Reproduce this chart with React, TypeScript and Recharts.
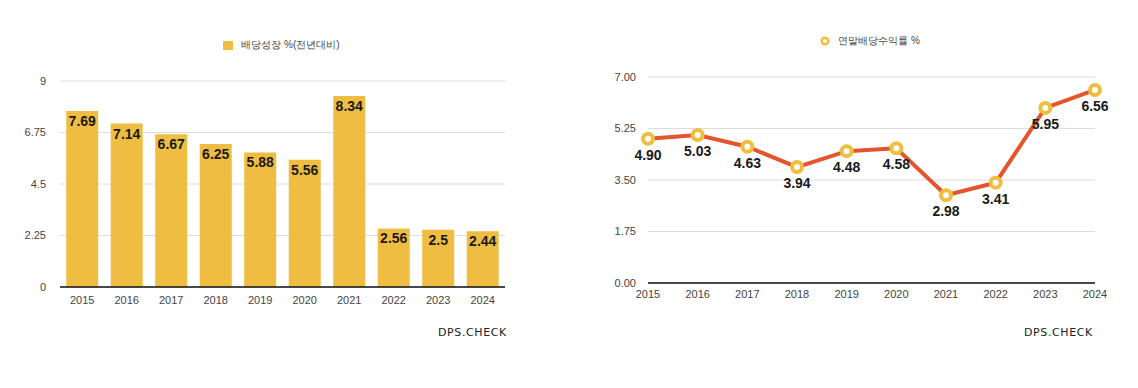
import React from "react";
import {
  BarChart,
  Bar,
  LineChart,
  Line,
  XAxis,
  YAxis,
  CartesianGrid,
  Legend,
  LabelList,
  ReferenceLine,
} from "recharts";

const years = ["2015", "2016", "2017", "2018", "2019", "2020", "2021", "2022", "2023", "2024"];
const growthValues = [7.69, 7.14, 6.67, 6.25, 5.88, 5.56, 8.34, 2.56, 2.5, 2.44];
const yieldValues = [4.9, 5.03, 4.63, 3.94, 4.48, 4.58, 2.98, 3.41, 5.95, 6.56];
const growthTicks = [0, 2.25, 4.5, 6.75, 9];
const yieldTicks = [0, 1.75, 3.5, 5.25, 7];
const growthName = "배당성장 %(전년대비)";
const yieldName = "연말배당수익률 %";

const growthData = years.map((year, i) => ({ year, value: growthValues[i] }));
const yieldData = years.map((year, i) => ({ year, value: yieldValues[i] }));

const FONT = "'Liberation Sans', Arial, sans-serif";
const BAR_COLOR = "#eebd41";
const LINE_COLOR = "#e4552e";
const DOT_COLOR = "#efbe3e";
const tickStyle = { fontSize: 11, fill: "#444", fontFamily: FONT };
const labelStyle = { fontSize: 14, fontWeight: 700, fill: "#1a1a1a", fontFamily: FONT };

const BarLegend = () => (
  <div style={{ height: 46, display: "flex", justifyContent: "center", paddingLeft: 48, fontFamily: FONT }}>
    <div style={{ display: "flex", alignItems: "center", height: 20, fontSize: 10, color: "#444" }}>
      <span style={{ width: 10, height: 9, background: BAR_COLOR, marginRight: 8, display: "inline-block" }} />
      {growthName}
    </div>
  </div>
);

const LineLegend = () => (
  <div style={{ height: 46, display: "flex", justifyContent: "center", paddingLeft: 46, fontFamily: FONT }}>
    <div style={{ display: "flex", alignItems: "center", height: 20, fontSize: 10, color: "#444" }}>
      <svg width={12} height={12} style={{ marginRight: 7 }}>
        <circle cx={6} cy={6} r={3.3} fill="#fff" stroke={DOT_COLOR} strokeWidth={2.5} />
      </svg>
      {yieldName}
    </div>
  </div>
);

const Watermark = ({ left }: { left: number }) => (
  <div
    style={{
      position: "absolute",
      left,
      top: 326,
      fontFamily: "'DejaVu Sans', sans-serif",
      fontSize: 11,
      letterSpacing: 0.6,
      color: "#222",
    }}
  >
    DPS.CHECK
  </div>
);

export default function App() {
  return (
    <div
      style={{
        position: "fixed",
        left: 0,
        top: 0,
        width: 1138,
        height: 388,
        background: "#fff",
      }}
    >
      <div style={{ position: "absolute", left: 0, top: 0 }}>
        <BarChart
          width={560}
          height={388}
          data={growthData}
          margin={{ top: 35, right: 55, bottom: 71, left: 10 }}
          barCategoryGap="14%"
        >
          <Legend verticalAlign="top" content={() => <BarLegend />} />
          <CartesianGrid vertical={false} stroke="#dcdcdc" />
          <XAxis
            dataKey="year"
            tick={tickStyle}
            tickLine={false}
            axisLine={false}
            tickMargin={3}
            height={30}
          />
          <YAxis
            domain={[0, 9]}
            ticks={growthTicks}
            tick={tickStyle}
            tickLine={false}
            axisLine={false}
            width={50}
            tickMargin={8}
          />
          <Bar dataKey="value" fill={BAR_COLOR} isAnimationActive={false}>
            <LabelList dataKey="value" position="insideTop" offset={5} style={labelStyle} />
          </Bar>
          <ReferenceLine y={0} stroke="#111" strokeWidth={1.5} />
        </BarChart>
      </div>
      <Watermark left={438} />

      <div style={{ position: "absolute", left: 560, top: 0 }}>
        <LineChart
          width={578}
          height={388}
          data={yieldData}
          margin={{ top: 31, right: 43, bottom: 75, left: 38 }}
        >
          <Legend verticalAlign="top" content={() => <LineLegend />} />
          <CartesianGrid vertical={false} stroke="#dcdcdc" />
          <XAxis
            dataKey="year"
            tick={tickStyle}
            tickLine={false}
            axisLine={false}
            tickMargin={1}
            height={30}
          />
          <YAxis
            domain={[0, 7]}
            ticks={yieldTicks}
            tickFormatter={(v: number) => v.toFixed(2)}
            tick={tickStyle}
            tickLine={false}
            axisLine={false}
            width={50}
            tickMargin={6}
          />
          <ReferenceLine y={0} stroke="#111" strokeWidth={1.5} />
          <Line
            dataKey="value"
            stroke={LINE_COLOR}
            strokeWidth={4}
            dot={{ r: 5, stroke: DOT_COLOR, strokeWidth: 4, fill: "#fff" }}
            isAnimationActive={false}
          >
            <LabelList
              dataKey="value"
              position="bottom"
              offset={11}
              formatter={(v: any) => Number(v).toFixed(2)}
              style={labelStyle}
            />
          </Line>
        </LineChart>
      </div>
      <Watermark left={1024} />
    </div>
  );
}
